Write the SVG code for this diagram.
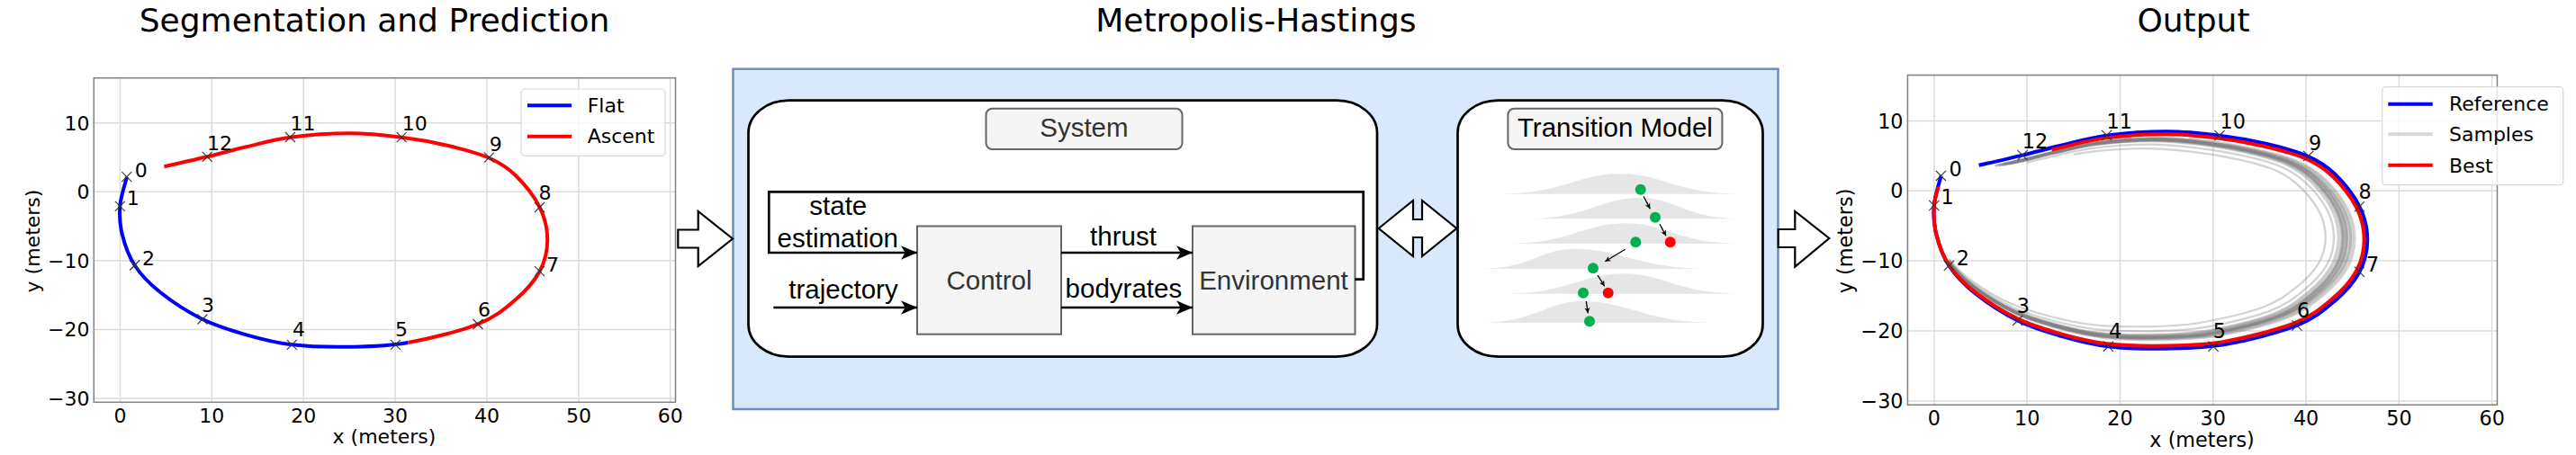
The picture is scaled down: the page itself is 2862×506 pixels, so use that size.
<svg xmlns="http://www.w3.org/2000/svg" xmlns:xlink="http://www.w3.org/1999/xlink" width="2862" height="506" viewBox="0 0 2862 506">
<style>
.title{font-family:"DejaVu Sans",sans-serif;font-size:36px;fill:#000}
.pt{font-family:"DejaVu Sans",sans-serif;font-size:22px;fill:#000}
.grid{stroke:#dcdcdc;stroke-width:1.5;fill:none}
.frame{fill:none;stroke:#808080;stroke-width:1.5}
.leg{fill:#fff;fill-opacity:0.8;stroke:#d8d8d8;stroke-width:1.2}
.dw{font-family:"Liberation Sans",Arial,sans-serif;font-size:29.5px;text-anchor:middle}
.gray{fill:#333}
.blk{fill:#000}
.ln{stroke:#000;stroke-width:2.7;fill:none}
.box{fill:#f5f5f5;stroke:#666;stroke-width:2}
.bell{fill:#e6e6e6}
.g{fill:#00b050}
.r{fill:#ff0000}
.sl{stroke:#000;stroke-width:1.3;fill:none}
.hollow{fill:#fff;stroke:#000;stroke-width:2.2;stroke-linejoin:miter}
.smp{fill:none;stroke:#808080;stroke-opacity:0.35;stroke-width:2.6}
</style>
<defs>
<marker id="arr" markerUnits="userSpaceOnUse" markerWidth="20" markerHeight="18" refX="18" refY="7.65" orient="auto" overflow="visible">
<path d="M0,0 L18,7.65 L0,15.3 L4.7,7.65 Z" fill="#000"/>
</marker>
<marker id="sarr" markerUnits="userSpaceOnUse" markerWidth="8" markerHeight="8" refX="6" refY="3" orient="auto" overflow="visible">
<path d="M0,0 L6,3 L0,6 L1.5,3 Z" fill="#000"/>
</marker>
<path id="mk" d="M-5.5,-5.5L5.5,5.5M-5.5,5.5L5.5,-5.5" stroke="#333" stroke-width="1.1" fill="none"/>
<path id="trajA" d="M141,196.7 C139.73,202 134.3,217.95 133.4,228.5 C132.5,239.05 132.9,248.92 135.6,260 C138.3,271.08 142.53,284.17 149.6,295 C156.67,305.83 165.45,315 178,325 C190.55,335 208.98,347.12 224.9,355 C240.82,362.88 256.93,367.58 273.5,372.3 C290.07,377.02 305.15,381.07 324.3,383.3 C343.45,385.53 366.88,386.08 388.4,385.7 C409.92,385.32 429.63,385.23 453.4,381"/>
<path id="trajB" d="M453.4,381 C477.17,376.77 511.12,368.25 531,360.3 C550.88,352.35 561.27,343.07 572.7,333.3 C584.13,323.53 593.68,312.8 599.6,301.7 C605.52,290.6 608.2,278.57 608.2,266.7 C608.2,254.83 605.52,242.45 599.6,230.5 C593.68,218.55 582.13,204.17 572.7,195 C563.27,185.83 555.65,181.05 543,175.5 C530.35,169.95 512.93,165.5 496.8,161.7 C480.67,157.9 464.27,154.93 446.2,152.7 C428.13,150.47 409.03,148.3 388.4,148.3 C367.77,148.3 341.55,150.2 322.4,152.7 C303.25,155.2 288.87,159.7 273.5,163.3 C258.13,166.9 245.38,170.63 230.2,174.3 C215.02,177.97 190.37,183.47 182.4,185.3"/>
<path id="traj" pathLength="1000" d="M141,196.7 C139.73,202 134.3,217.95 133.4,228.5 C132.5,239.05 132.9,248.92 135.6,260 C138.3,271.08 142.53,284.17 149.6,295 C156.67,305.83 165.45,315 178,325 C190.55,335 208.98,347.12 224.9,355 C240.82,362.88 256.93,367.58 273.5,372.3 C290.07,377.02 305.15,381.07 324.3,383.3 C343.45,385.53 366.88,386.08 388.4,385.7 C409.92,385.32 429.63,385.23 453.4,381 C477.17,376.77 511.12,368.25 531,360.3 C550.88,352.35 561.27,343.07 572.7,333.3 C584.13,323.53 593.68,312.8 599.6,301.7 C605.52,290.6 608.2,278.57 608.2,266.7 C608.2,254.83 605.52,242.45 599.6,230.5 C593.68,218.55 582.13,204.17 572.7,195 C563.27,185.83 555.65,181.05 543,175.5 C530.35,169.95 512.93,165.5 496.8,161.7 C480.67,157.9 464.27,154.93 446.2,152.7 C428.13,150.47 409.03,148.3 388.4,148.3 C367.77,148.3 341.55,150.2 322.4,152.7 C303.25,155.2 288.87,159.7 273.5,163.3 C258.13,166.9 245.38,170.63 230.2,174.3 C215.02,177.97 190.37,183.47 182.4,185.3"/>
<path id="trajS" pathLength="100" d="M149.6,295 C156.67,305.83 165.45,315 178,325 C190.55,335 208.98,347.12 224.9,355 C240.82,362.88 256.93,367.58 273.5,372.3 C290.07,377.02 305.15,381.07 324.3,383.3 C343.45,385.53 366.88,386.08 388.4,385.7 C409.92,385.32 429.63,385.23 453.4,381 C477.17,376.77 511.12,368.25 531,360.3 C550.88,352.35 561.27,343.07 572.7,333.3 C584.13,323.53 593.68,312.8 599.6,301.7 C605.52,290.6 608.2,278.57 608.2,266.7 C608.2,254.83 605.52,242.45 599.6,230.5 C593.68,218.55 582.13,204.17 572.7,195 C563.27,185.83 555.65,181.05 543,175.5 C530.35,169.95 512.93,165.5 496.8,161.7 C480.67,157.9 464.27,154.93 446.2,152.7 C428.13,150.47 409.03,148.3 388.4,148.3 C367.77,148.3 341.55,150.2 322.4,152.7 C303.25,155.2 288.87,159.7 273.5,163.3 C258.13,166.9 245.38,170.63 230.2,174.3 C215.02,177.97 190.37,183.47 182.4,185.3"/>
<g id="axes">
<g class="grid">
<path d="M133.4,86.7V447.3M235.3,86.7V447.3M337.2,86.7V447.3M439.1,86.7V447.3M541,86.7V447.3M642.9,86.7V447.3M744.8,86.7V447.3"/>
<path d="M104.3,136.7H750.5M104.3,213.3H750.5M104.3,289.8H750.5M104.3,366.4H750.5M104.3,443H750.5"/>
</g>
<rect class="frame" x="104.3" y="86.7" width="646.2" height="360.6"/>
<g class="pt" text-anchor="end">
<text x="99.5" y="144.7">10</text>
<text x="99.5" y="221.3">0</text>
<text x="99.5" y="297.8">−10</text>
<text x="99.5" y="374.4">−20</text>
<text x="99.5" y="451">−30</text>
</g>
<g class="pt" text-anchor="middle">
<text x="133.4" y="469.5">0</text>
<text x="235.3" y="469.5">10</text>
<text x="337.2" y="469.5">20</text>
<text x="439.1" y="469.5">30</text>
<text x="541" y="469.5">40</text>
<text x="642.9" y="469.5">50</text>
<text x="744.8" y="469.5">60</text>
<text x="427" y="493">x (meters)</text>
<text transform="translate(43.5,268) rotate(-90)">y (meters)</text>
</g>
</g>
<g id="marks">
<use xlink:href="#mk" x="140.8" y="196.7"/>
<use xlink:href="#mk" x="133.3" y="229.3"/>
<use xlink:href="#mk" x="149.6" y="295"/>
<use xlink:href="#mk" x="224.9" y="355"/>
<use xlink:href="#mk" x="324.3" y="383.3"/>
<use xlink:href="#mk" x="439.4" y="383.3"/>
<use xlink:href="#mk" x="531" y="360.5"/>
<use xlink:href="#mk" x="599.5" y="301.7"/>
<use xlink:href="#mk" x="599.5" y="230.5"/>
<use xlink:href="#mk" x="543.5" y="175.2"/>
<use xlink:href="#mk" x="446.2" y="152.7"/>
<use xlink:href="#mk" x="322.4" y="152.5"/>
<use xlink:href="#mk" x="230.2" y="174.3"/>
<g class="pt">
<text x="149.7" y="197">0</text>
<text x="140.8" y="227.7">1</text>
<text x="158" y="295">2</text>
<text x="223.9" y="346.7">3</text>
<text x="325" y="374">4</text>
<text x="439" y="374">5</text>
<text x="531" y="351.7">6</text>
<text x="607" y="301.7">7</text>
<text x="598.5" y="221.7">8</text>
<text x="543.8" y="168.3">9</text>
<text x="446.8" y="145">10</text>
<text x="322.4" y="145">11</text>
<text x="230" y="166.7">12</text>
</g>
</g>
</defs>

<rect width="2862" height="506" fill="#fff"/>

<!-- Titles -->
<text class="title" x="416" y="35" text-anchor="middle">Segmentation and Prediction</text>
<text class="title" x="1395.4" y="35" text-anchor="middle">Metropolis-Hastings</text>
<text class="title" x="2437" y="35" text-anchor="middle">Output</text>

<!-- Left plot -->
<g id="plot-left">
<use xlink:href="#axes"/>
<use xlink:href="#trajA" fill="none" stroke="#0000ff" stroke-width="4"/>
<use xlink:href="#trajB" fill="none" stroke="#ff0000" stroke-width="4"/>
<use xlink:href="#marks"/>
<rect class="leg" x="579" y="99" width="160" height="74.3" rx="4"/>
<path d="M586,117.3H635" stroke="#0000ff" stroke-width="4"/>
<path d="M586,151.7H635" stroke="#ff0000" stroke-width="4"/>
<text class="pt" x="652.7" y="125">Flat</text>
<text class="pt" x="652.7" y="159">Ascent</text>
</g>

<!-- Right plot -->
<g id="plot-right">
<g transform="matrix(1.01374,0,0,1.017,2013.67,-4.63)">
<use xlink:href="#axes"/>
<use xlink:href="#traj" fill="none" stroke="#0000ff" stroke-width="4"/>
<g>
<use xlink:href="#trajS" class="smp" transform="matrix(0.97,0,0,0.93,4.488,17.5)" stroke-dasharray="98 200"/>
<use xlink:href="#trajS" class="smp" transform="matrix(0.96,0,0,0.92,5.984,19.84)" stroke-dasharray="97 200"/>
<use xlink:href="#trajS" class="smp" transform="matrix(0.955,0,0,0.915,6.732,20.995)" stroke-dasharray="96.5 200"/>
<use xlink:href="#trajS" class="smp" transform="matrix(0.95,0,0,0.91,7.48,22.23)" stroke-dasharray="97.5 200"/>
<use xlink:href="#trajS" class="smp" transform="matrix(0.945,0,0,0.905,8.228,23.37)" stroke-dasharray="96 200"/>
<use xlink:href="#trajS" class="smp" transform="matrix(0.94,0,0,0.9,8.976,24.6)" stroke-dasharray="97 200"/>
<use xlink:href="#trajS" class="smp" transform="matrix(0.935,0,0,0.895,9.724,25.725)" stroke-dasharray="96 200"/>
<use xlink:href="#trajS" class="smp" transform="matrix(0.95,0,0,0.92,7.48,19.6)" stroke-dasharray="98 200"/>
<use xlink:href="#trajS" class="smp" transform="matrix(0.96,0,0,0.905,5.984,23.75)" stroke-dasharray="96.5 200"/>
<use xlink:href="#trajS" class="smp" transform="matrix(0.93,0,0,0.89,10.472,27.06)" stroke-dasharray="95.5 200"/>
<use xlink:href="#trajS" class="smp" transform="matrix(0.965,0,0,0.925,5.236,18.525)" stroke-dasharray="97 200"/>
<use xlink:href="#trajS" class="smp" transform="matrix(0.94,0,0,0.915,8.976,21.08)" stroke-dasharray="97.5 200"/>
<use xlink:href="#trajS" class="smp" transform="matrix(0.945,0,0,0.91,8.228,22.5)" stroke-dasharray="96.8 200"/>
<use xlink:href="#trajS" class="smp" transform="matrix(0.952,0,0,0.912,7.18,21.7)" stroke-dasharray="97.2 200"/>
<use xlink:href="#trajS" class="smp" transform="matrix(0.942,0,0,0.902,8.68,24.1)" stroke-dasharray="96.2 200"/>
<use xlink:href="#trajS" class="smp" transform="matrix(0.92,0,0,0.86,11.968,35)" stroke-dasharray="94 200" stroke-opacity="0.2"/>
<use xlink:href="#trajS" class="smp" transform="matrix(0.9,0,0,0.82,14.96,45.36)" stroke-dasharray="88 200" stroke-opacity="0.18"/>
</g>
<use xlink:href="#traj" fill="none" stroke="#ff0000" stroke-width="4" transform="matrix(0.9926,0,0,0.9747,0.987,6.75)" stroke-dasharray="916 2000" stroke-dashoffset="-10"/>
<use xlink:href="#marks"/>
</g>
<rect class="leg" x="2646.7" y="96.7" width="201" height="109" rx="4"/>
<path d="M2653.3,115.7H2702.7" stroke="#0000ff" stroke-width="4"/>
<path d="M2653.3,149.3H2702.7" stroke="#808080" stroke-opacity="0.3" stroke-width="4"/>
<path d="M2653.3,183.7H2702.7" stroke="#ff0000" stroke-width="4"/>
<text class="pt" x="2721" y="122.7">Reference</text>
<text class="pt" x="2721" y="157.3">Samples</text>
<text class="pt" x="2721" y="192.3">Best</text>
</g>

<!-- Metropolis-Hastings panel -->
<g id="mh-panel">
<rect x="814.5" y="76.7" width="1161" height="378.3" fill="#dae8fc" stroke="#6c8ebf" stroke-width="2.5"/>
</g>

<g id="system">
<rect x="831.5" y="111.7" width="698.5" height="285" rx="45" ry="36" fill="#fff" stroke="#000" stroke-width="2.7"/>
<rect class="box" x="1095.5" y="120.7" width="218" height="45.3" rx="7"/>
<text class="dw gray" x="1204.4" y="151.5">System</text>
</g>

<g id="control">
<rect class="box" x="1019" y="251.5" width="160" height="120.2"/>
<text class="dw gray" x="1099" y="321.7">Control</text>
</g>

<g id="environment">
<rect class="box" x="1325" y="251.5" width="180.5" height="120.2"/>
<text class="dw gray" x="1415" y="321.7">Environment</text>
</g>

<g id="transition-model">
<rect x="1619.5" y="111.7" width="339" height="285" rx="45" ry="36" fill="#fff" stroke="#000" stroke-width="2.7"/>
<rect class="box" x="1675.4" y="120.7" width="238" height="45.3" rx="7"/>
<text class="dw blk" x="1794.4" y="151.5">Transition Model</text>
<path class="bell" d="M1661.7,215.7 C1737.8,215.7 1751.6,193.3 1800,193.3 C1847.6,193.3 1861.2,215.7 1936,215.7 Z"/>
<path class="bell" d="M1693.3,243.3 C1764.1,243.3 1777,220 1822,220 C1861.9,220 1873.3,243.3 1936,243.3 Z"/>
<path class="bell" d="M1671.7,271 C1745.6,271 1759,248.3 1806,248.3 C1851.5,248.3 1864.5,271 1936,271 Z"/>
<path class="bell" d="M1643.3,299 C1700.9,299 1711.4,276.7 1748,276.7 C1802.4,276.7 1817.9,299 1903.3,299 Z"/>
<path class="bell" d="M1671.7,326.7 C1743.9,326.7 1757,304.3 1803,304.3 C1849.6,304.3 1862.8,326.7 1936,326.7 Z"/>
<path class="bell" d="M1643.3,359 C1706.4,359 1717.9,335 1758,335 C1811.2,335 1826.4,359 1910,359 Z"/>
<g class="sl" marker-end="url(#sarr)">
<path d="M1826,218.3 L1833.3,232.3"/>
<path d="M1844,249.3 L1851,262.3"/>
<path d="M1805.7,277.3 L1783.3,290.7"/>
<path d="M1775,306 L1782.7,318.3"/>
<path d="M1762.3,335 L1764.3,348.3"/>
</g>
<circle class="g" cx="1822.7" cy="210.7" r="6"/>
<circle class="g" cx="1839" cy="241.7" r="6"/>
<circle class="r" cx="1855.7" cy="269.3" r="6"/>
<circle class="g" cx="1817.3" cy="269.3" r="6"/>
<circle class="g" cx="1770" cy="298.3" r="6"/>
<circle class="r" cx="1786.7" cy="325.7" r="6"/>
<circle class="g" cx="1759" cy="325.7" r="6"/>
<circle class="g" cx="1766" cy="357.3" r="6"/>
</g>

<!-- Connectors -->
<g id="connectors">
<path class="ln" d="M1505.5,310.7 H1514.7 V213.3 H854.3 V281 H1019" marker-end="url(#arr)"/>
<path class="ln" d="M859.3,342 H1019" marker-end="url(#arr)"/>
<path class="ln" d="M1179,281 H1325" marker-end="url(#arr)"/>
<path class="ln" d="M1179,342 H1325" marker-end="url(#arr)"/>
<text class="dw blk" x="931.3" y="239.3">state</text>
<text class="dw blk" x="930.8" y="275">estimation</text>
<text class="dw blk" x="937" y="331.7">trajectory</text>
<text class="dw blk" x="1248" y="273.3">thrust</text>
<text class="dw blk" x="1248.4" y="331">bodyrates</text>
<polygon class="hollow" points="1531.7,254 1570,223 1570,244 1580,244 1580,223 1618.3,254 1580,285 1580,264 1570,264 1570,285"/>
<polygon class="hollow" points="753.3,255.5 775.7,255.5 775.7,235 814,265.5 775.7,296 775.7,275.5 753.3,275.5"/>
<polygon class="hollow" points="1975.7,255 1994.3,255 1994.3,235 2032.3,265 1994.3,296.7 1994.3,275 1975.7,275"/>
</g>
</svg>
